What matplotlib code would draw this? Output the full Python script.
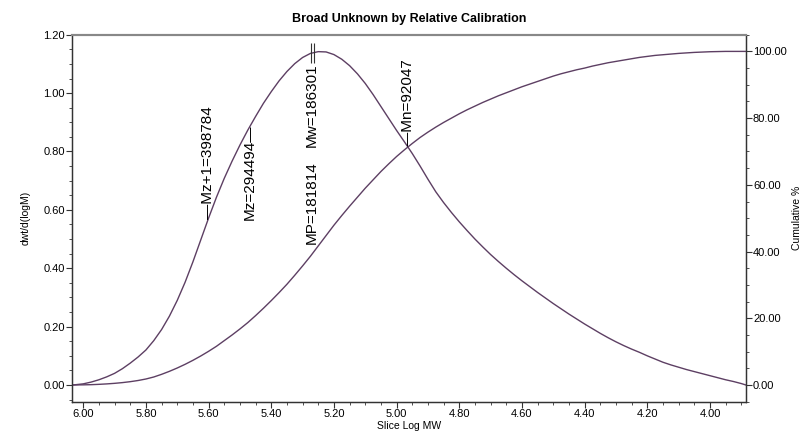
import numpy as np
import matplotlib
matplotlib.use("Agg")
import matplotlib.pyplot as plt
from matplotlib.ticker import MultipleLocator, FormatStrFormatter

plt.rcParams['font.family'] = ['Liberation Sans', 'DejaVu Sans']

# slice log MW, read every 0.025 from 6.025 down to 3.900, plus the two axis ends
log_mw = [6.036] + list(np.round(np.arange(6.025, 3.89, -0.025), 3)) + [3.885]

# dwt/d(logM)
dwdlogm = [0.000,
           0.001, 0.004, 0.010, 0.018, 0.028, 0.040, 0.056, 0.075, 0.096, 0.120,
           0.152, 0.190, 0.236, 0.290, 0.352, 0.422, 0.497, 0.572, 0.643, 0.708,
           0.767, 0.822, 0.873, 0.920, 0.965, 1.005, 1.042, 1.074, 1.101, 1.122,
           1.136, 1.142, 1.141, 1.132, 1.116, 1.094, 1.066, 1.033, 0.995, 0.954,
           0.913, 0.872, 0.833, 0.793, 0.750, 0.705, 0.662, 0.625, 0.591, 0.559,
           0.529, 0.500, 0.473, 0.447, 0.423, 0.400, 0.378, 0.357, 0.337, 0.317,
           0.298, 0.279, 0.261, 0.243, 0.226, 0.209, 0.193, 0.177, 0.162, 0.148,
           0.135, 0.123, 0.112, 0.100, 0.089, 0.078, 0.069, 0.061, 0.053, 0.046,
           0.039, 0.032, 0.025, 0.018, 0.012, 0.005,
           0.000]

# cumulative %
cumulative = [0.0,
              0.02, 0.05, 0.1, 0.2, 0.33, 0.5, 0.72, 1.0, 1.35, 1.8,
              2.4, 3.2, 4.1, 5.1, 6.2, 7.4, 8.7, 10.1, 11.6, 13.3,
              15.0, 16.8, 18.7, 20.8, 23.0, 25.3, 27.7, 30.2, 32.9, 35.7,
              38.6, 41.7, 44.8, 47.9, 50.8, 53.6, 56.3, 59.0, 61.5, 64.0,
              66.3, 68.5, 70.5, 72.4, 74.2, 75.8, 77.3, 78.7, 80.0, 81.3,
              82.5, 83.6, 84.7, 85.7, 86.7, 87.6, 88.5, 89.4, 90.2, 91.0,
              91.8, 92.6, 93.3, 93.9, 94.5, 95.0, 95.6, 96.1, 96.6, 97.0,
              97.4, 97.8, 98.2, 98.5, 98.8, 99.0, 99.2, 99.4, 99.55, 99.7,
              99.8, 99.9, 99.95, 100.0, 100.0, 100.0,
              100.0]

# molecular weight averages
Mz1 = 398784
Mz = 294494
Mw = 186301
MP = 181814
Mn = 92047

line_col = '#5d3f63'
ax_col = '#333333'

fig = plt.figure(figsize=(8.05, 4.44), dpi=100)
ax = fig.add_axes([0.0894, 0.0953, 0.8373, 0.8265])
ax2 = ax.twinx()

ax.plot(log_mw, dwdlogm, color=line_col, lw=1.0)
ax2.plot(log_mw, cumulative, color=line_col, lw=1.0)

ax.set_xlim(6.036, 3.885)
ax.set_ylim(-0.0571, 1.20)
ax2.set_ylim(-5.0, 105.0)
right_scale = 110.0 / 1.2571   # cumulative units per left unit

ax.xaxis.set_major_locator(MultipleLocator(0.2))
ax.xaxis.set_minor_locator(MultipleLocator(0.05))
ax.yaxis.set_major_locator(MultipleLocator(0.2))
ax.yaxis.set_minor_locator(MultipleLocator(0.05))
ax2.yaxis.set_major_locator(MultipleLocator(20))
ax2.yaxis.set_minor_locator(MultipleLocator(5))
ax.xaxis.set_major_formatter(FormatStrFormatter('%.2f'))
ax.yaxis.set_major_formatter(FormatStrFormatter('%.2f'))
ax2.yaxis.set_major_formatter(FormatStrFormatter('%.2f'))

for a in (ax, ax2):
    a.tick_params(which='major', length=4, width=0.8, color=ax_col, labelsize=8, pad=1)
    a.tick_params(which='minor', length=2.5, width=0.6, color=ax_col)
    for s in a.spines.values():
        s.set_color(ax_col)
        s.set_linewidth(0.9)
    a.spines['top'].set_color('#888888')
    a.spines['top'].set_linewidth(1.5)

ax.set_title('Broad Unknown by Relative Calibration', fontsize=9, fontweight='bold', pad=9)
ax.set_xlabel('Slice Log MW', fontsize=7.5, labelpad=2)
ax.set_ylabel('dwt/d(logM)', fontsize=7.5, labelpad=9)
ax2.set_ylabel('Cumulative %', fontsize=7.5, labelpad=4)


def on_curve(xv, ys):
    return np.interp(-xv, -np.array(log_mw), np.array(ys))


lbl = dict(rotation=90, fontsize=11, ha='center', color='black')

x1 = np.log10(Mz1)
ax.text(x1, on_curve(x1, dwdlogm), '\u2014Mz+1=' + str(Mz1), va='bottom', **lbl)

x2 = np.log10(Mz)
ax.text(x2, on_curve(x2, dwdlogm) + 0.01, 'Mz=' + str(Mz) + '\u2014', va='top', **lbl)

x3 = np.log10(Mw)
xp = np.log10(MP)
peak = on_curve(x3, dwdlogm)
ax.vlines([x3 + 0.003, xp + 0.003], peak - 0.035, peak + 0.035, color=ax_col, lw=0.8)
ax.text(x3, peak - 0.035, 'Mw=' + str(Mw), va='top', **lbl)
ax.text(x3, on_curve(xp, cumulative) / right_scale + 0.02, 'MP=' + str(MP), va='bottom', **lbl)

x5 = np.log10(Mn)
ax.text(x5, on_curve(x5, dwdlogm), '\u2014Mn=' + str(Mn), va='bottom', **lbl)

fig.savefig('out.png', dpi=100)
